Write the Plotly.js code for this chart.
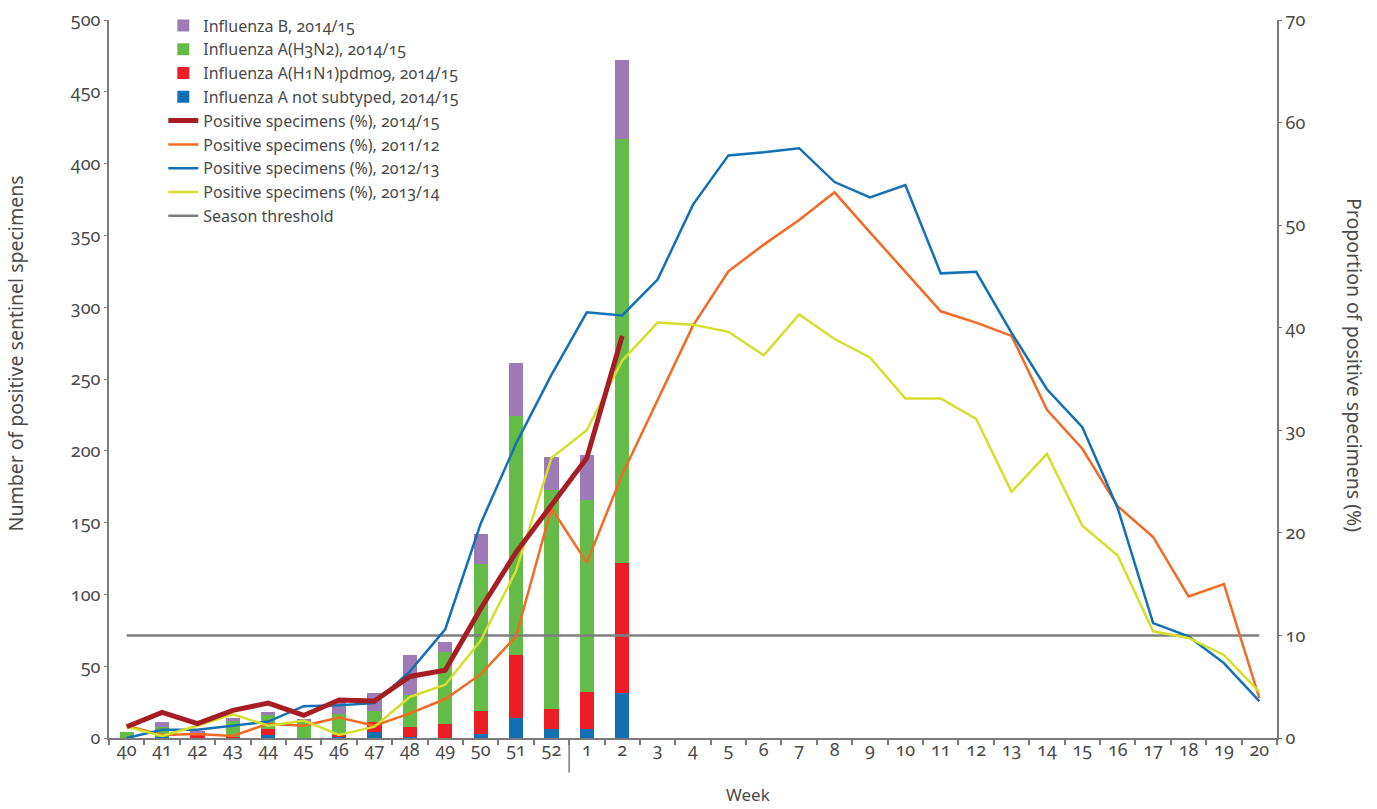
<!DOCTYPE html>
<html>
<head>
<meta charset="utf-8">
<script src="https://cdn.plot.ly/plotly-3.0.1.min.js"></script>
<style>
html,body{margin:0;padding:0;background:#fff;}
#chart{width:1377px;height:809px;}
svg text{font-feature-settings:"onum" 1;}
</style>
</head>
<body>
<div id="chart"></div>
<script>
// Categories (weeks 40/2014 to 20/2015)
const weeks = ['40','41','42','43','44','45','46','47','48','49','50','51','52',
  '1','2','3','4','5','6','7','8','9','10','11','12','13','14','15','16','17','18','19','20'];

// Stacked bars: number of positive sentinel specimens, 2014/15 (weeks 40..2)
const notSubtyped = [0,1,0,0,2,0,1,4,1,0,3,14,6,6,31];
const h1n1pdm09   = [0,0,3,1,4,0,1,7,7,10,16,44,14,26,91];
const h3n2        = [4,7,1,11,10,12,15,8,22,50,102,166,153,134,295];
const fluB        = [0,3,1,2,2,1,8,12,28,7,21,37,23,31,55];

// Proportion of positive specimens (%)
const pos1415 = [1.1,2.5,1.4,2.7,3.4,2.2,3.7,3.6,6.0,6.6,12.6,18.1,22.7,27.3,39.2];
const pos1112 = [1.2,0.3,0.4,0.2,1.4,1.2,2.0,1.2,2.4,3.8,6.2,9.9,22.4,
  17.1,25.7,33.0,40.2,45.5,48.1,50.5,53.2,49.3,45.4,41.6,40.5,39.2,32.0,28.2,22.6,19.6,13.8,15.0,3.9];
const pos1213 = [0,0.8,0.8,1.2,1.6,3.1,3.2,3.4,6.5,10.6,20.9,28.7,35.4,
  41.5,41.2,44.7,52.0,56.8,57.1,57.5,54.2,52.7,53.9,45.3,45.45,39.5,34.0,30.3,22.4,11.2,9.9,7.3,3.6];
const pos1314 = [1.1,0.2,1.2,2.3,1.2,1.7,0.3,1.1,4.0,5.2,9.5,16.3,27.3,
  30.0,36.8,40.5,40.3,39.6,37.3,41.3,38.9,37.1,33.1,33.1,31.1,24.0,27.7,20.7,17.8,10.4,9.75,8.1,4.5];
const threshold = weeks.map(() => 10);

const barWeeks = weeks.slice(0, notSubtyped.length);
const lineWeeks14 = weeks.slice(0, pos1415.length);

const FONT = '"Noto Sans", "Open Sans", sans-serif';
const TXT = '#4a4a4a';

const traces = [
  {type:'bar', x:barWeeks, y:notSubtyped, name:'Influenza A not subtyped, 2014/15', marker:{color:'#1170b3'}, legendrank:4},
  {type:'bar', x:barWeeks, y:h1n1pdm09, name:'Influenza A(H1N1)pdm09, 2014/15', marker:{color:'#ec1d25'}, legendrank:3},
  {type:'bar', x:barWeeks, y:h3n2, name:'Influenza A(H3N2), 2014/15', marker:{color:'#64bb47'}, legendrank:2},
  {type:'bar', x:barWeeks, y:fluB, name:'Influenza B, 2014/15', marker:{color:'#9e7ab7'}, legendrank:1},
  {type:'scatter', mode:'lines', x:weeks, y:threshold, yaxis:'y2', name:'Season threshold', line:{color:'#7f7f7f', width:2.5}, legendrank:9},
  {type:'scatter', mode:'lines', x:weeks, y:pos1112, yaxis:'y2', name:'Positive specimens (%), 2011/12', line:{color:'#f26a23', width:2.5}, legendrank:6},
  {type:'scatter', mode:'lines', x:weeks, y:pos1213, yaxis:'y2', name:'Positive specimens (%), 2012/13', line:{color:'#1270b4', width:2.5}, legendrank:7},
  {type:'scatter', mode:'lines', x:weeks, y:pos1314, yaxis:'y2', name:'Positive specimens (%), 2013/14', line:{color:'#d5df2b', width:2.5}, legendrank:8},
  {type:'scatter', mode:'lines', x:lineWeeks14, y:pos1415, yaxis:'y2', name:'Positive specimens (%), 2014/15', line:{color:'#a61e24', width:5}, legendrank:5}
];

const layout = {
  width:1377, height:809,
  margin:{l:109, r:100, t:20, b:71, autoexpand:false},
  paper_bgcolor:'#fff', plot_bgcolor:'#fff',
  font:{family:FONT, size:16, color:TXT},
  barmode:'stack', bargap:0.6,
  showlegend:true,
  legend:{x:0.0465, y:1.016, xanchor:'left', yanchor:'top', traceorder:'normal',
    font:{family:FONT, size:16, color:TXT}, bgcolor:'rgba(0,0,0,0)', tracegroupgap:0, itemwidth:30},
  xaxis:{type:'category', categoryorder:'array', categoryarray:weeks, automargin:false,
    range:[-0.5, weeks.length-0.5], showline:true, linecolor:'#7a7a7a', linewidth:2,
    ticks:'outside', tickson:'boundaries', ticklen:5, tickcolor:'#7a7a7a', tickwidth:1.5,
    ticklabelstandoff:-6,
    tickfont:{family:FONT, size:18, color:TXT}, showgrid:false, zeroline:false, fixedrange:true},
  yaxis:{range:[0,500], dtick:50, automargin:false, showline:true, linecolor:'#7a7a7a', linewidth:2,
    ticks:'outside', ticklen:3, tickcolor:'#7a7a7a', tickfont:{family:FONT, size:18, color:TXT},
    showgrid:false, zeroline:false},
  yaxis2:{overlaying:'y', side:'right', range:[0,70], dtick:10, automargin:false, showline:true, linecolor:'#7a7a7a', linewidth:2,
    ticks:'outside', ticklen:3, tickcolor:'#7a7a7a', tickfont:{family:FONT, size:18, color:TXT},
    showgrid:false, zeroline:false},
  shapes:[
    {type:'line', xref:'x', yref:'paper', x0:12.5, x1:12.5, y0:0, y1:-0.048, line:{color:'#7a7a7a', width:1.5}}
  ],
  annotations:[
    {text:'Number of positive sentinel specimens', xref:'paper', yref:'paper', x:-0.08, y:0.535,
      xanchor:'center', yanchor:'middle', textangle:-90, showarrow:false, font:{family:FONT, size:19.5, color:TXT}},
    {text:'Proportion of positive specimens (%)', xref:'paper', yref:'paper', x:1.0665, y:0.52,
      xanchor:'center', yanchor:'middle', textangle:90, showarrow:false, font:{family:FONT, size:19.5, color:TXT}},
    {text:'Week', xref:'paper', yref:'paper', x:0.547, y:-0.0786,
      xanchor:'center', yanchor:'middle', showarrow:false, font:{family:FONT, size:17, color:TXT}}
  ]
};

Plotly.newPlot('chart', traces, layout, {displayModeBar:false, responsive:false});
</script>
</body>
</html>
